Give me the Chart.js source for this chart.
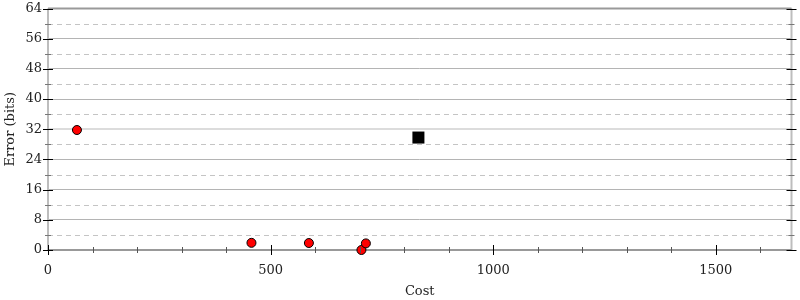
<!DOCTYPE html>
<html>
<head>
<meta charset="utf-8">
<script src="https://cdn.jsdelivr.net/npm/chart.js@4"></script>
<style>
  html, body { margin: 0; padding: 0; background: #fff; }
  #wrap { width: 800px; height: 300px; }
</style>
</head>
<body>
<div id="wrap"><canvas id="errChart"></canvas></div>
<script>
// Data
const costRed = [65, 457, 586, 704, 714];        // red points, cost
const errRed = [31.8, 1.9, 1.85, 0, 1.75];      // red points, error (bits)
const costBlack = [832];                          // black square
const errBlack = [29.8];
const xMajor = [0, 500, 1000, 1500];
const xMinorStep = 100;
const yMinor = [4, 12, 20, 28, 36, 44, 52, 60];

const xMax = 1670;
const font = { family: "'DejaVu Serif', serif", size: 13 };

// draws dashed minor grid lines and the little tick marks on all four sides
const tickPlugin = {
  id: 'ticksAndDashes',
  beforeDatasetsDraw(chart) {
    const { ctx, chartArea: a, scales: { x, y } } = chart;
    ctx.save();
    ctx.strokeStyle = '#c4c4c4';
    ctx.lineWidth = 1;
    ctx.setLineDash([5, 4]);
    yMinor.forEach(v => {
      const py = Math.round(y.getPixelForValue(v)) + 0.5;
      ctx.beginPath(); ctx.moveTo(a.left, py); ctx.lineTo(a.right, py); ctx.stroke();
    });
    ctx.setLineDash([]);
    ctx.restore();
  },
  afterDraw(chart) {
    const { ctx, chartArea: a, scales: { x, y } } = chart;
    ctx.save();
    // y ticks, left and right
    for (let v = 0; v <= 64; v += 4) {
      const py = Math.round(y.getPixelForValue(v)) + 0.5;
      const major = v % 8 === 0;
      ctx.strokeStyle = major ? '#000' : '#777';
      ctx.lineWidth = 1;
      const len = major ? 5 : 3;
      ctx.beginPath();
      ctx.moveTo(a.left - len, py); ctx.lineTo(a.left + len, py);
      ctx.moveTo(a.right - len, py); ctx.lineTo(a.right + len, py);
      ctx.stroke();
    }
    // x ticks on bottom
    for (let v = 0; v <= xMax; v += xMinorStep) {
      const px = Math.round(x.getPixelForValue(v)) + 0.5;
      const major = xMajor.includes(v);
      ctx.strokeStyle = major ? '#000' : '#555';
      const len = major ? 5 : 3;
      ctx.beginPath();
      ctx.moveTo(px, a.bottom - len); ctx.lineTo(px, a.bottom + len);
      ctx.stroke();
    }
    ctx.restore();
  }
};

// frame: top/bottom darker, left/right lighter
const framePlugin = {
  id: 'frame',
  beforeDatasetsDraw(chart) {
    const { ctx, chartArea: a } = chart;
    ctx.save();
    ctx.lineWidth = 2;
    ctx.strokeStyle = '#bdbdbd';
    ctx.beginPath();
    ctx.moveTo(a.left, a.top); ctx.lineTo(a.left, a.bottom);
    ctx.moveTo(a.right, a.top); ctx.lineTo(a.right, a.bottom);
    ctx.stroke();
    ctx.strokeStyle = '#999';
    ctx.beginPath();
    ctx.moveTo(a.left, a.top); ctx.lineTo(a.right, a.top);
    ctx.moveTo(a.left, a.bottom); ctx.lineTo(a.right, a.bottom);
    ctx.stroke();
    ctx.restore();
  }
};

new Chart(document.getElementById('errChart'), {
  type: 'scatter',
  data: {
    datasets: [
      {
        label: 'red',
        data: costRed.map((c, i) => ({ x: c, y: errRed[i] })),
        backgroundColor: '#ff0000',
        borderColor: '#000',
        borderWidth: 1,
        pointRadius: 4.5
      },
      {
        label: 'black',
        data: costBlack.map((c, i) => ({ x: c, y: errBlack[i] })),
        pointStyle: 'rect',
        backgroundColor: '#000',
        borderColor: '#000',
        borderWidth: 0,
        pointRadius: 8.5
      }
    ]
  },
  options: {
    responsive: true,
    maintainAspectRatio: false,
    animation: false,
    clip: false,
    layout: { padding: { top: 8, right: 4, left: 0, bottom: 0 } },
    plugins: { legend: { display: false }, tooltip: { enabled: false } },
    scales: {
      x: {
        type: 'linear',
        min: 0,
        max: xMax,
        afterBuildTicks: s => { s.ticks = xMajor.map(v => ({ value: v })); },
        afterFit: s => { s.height = 50; s.paddingLeft = 0; s.paddingRight = 0; },
        grid: { display: false },
        border: { display: false },
        ticks: { font: font, color: '#222', padding: 5, maxRotation: 0, callback: v => String(v) },
        title: { display: true, text: 'Cost', font: font, color: '#222', padding: { top: 4, bottom: 1 } }
      },
      y: {
        min: 0,
        max: 64,
        afterFit: s => { s.width = 48; s.paddingTop = 0; s.paddingBottom = 0; },
        ticks: { stepSize: 8, font: font, color: '#222', padding: 6, callback: v => String(v) },
        grid: {
          drawTicks: false,
          color: c => c.tick && c.tick.value === 32 ? '#dcdcdc' : '#b4b4b4',
          lineWidth: c => c.tick && c.tick.value === 32 ? 2 : 1
        },
        border: { display: false },
        title: { display: true, text: 'Error (bits)', font: font, color: '#222', padding: 3 }
      }
    }
  },
  plugins: [framePlugin, tickPlugin]
});
</script>
</body>
</html>
